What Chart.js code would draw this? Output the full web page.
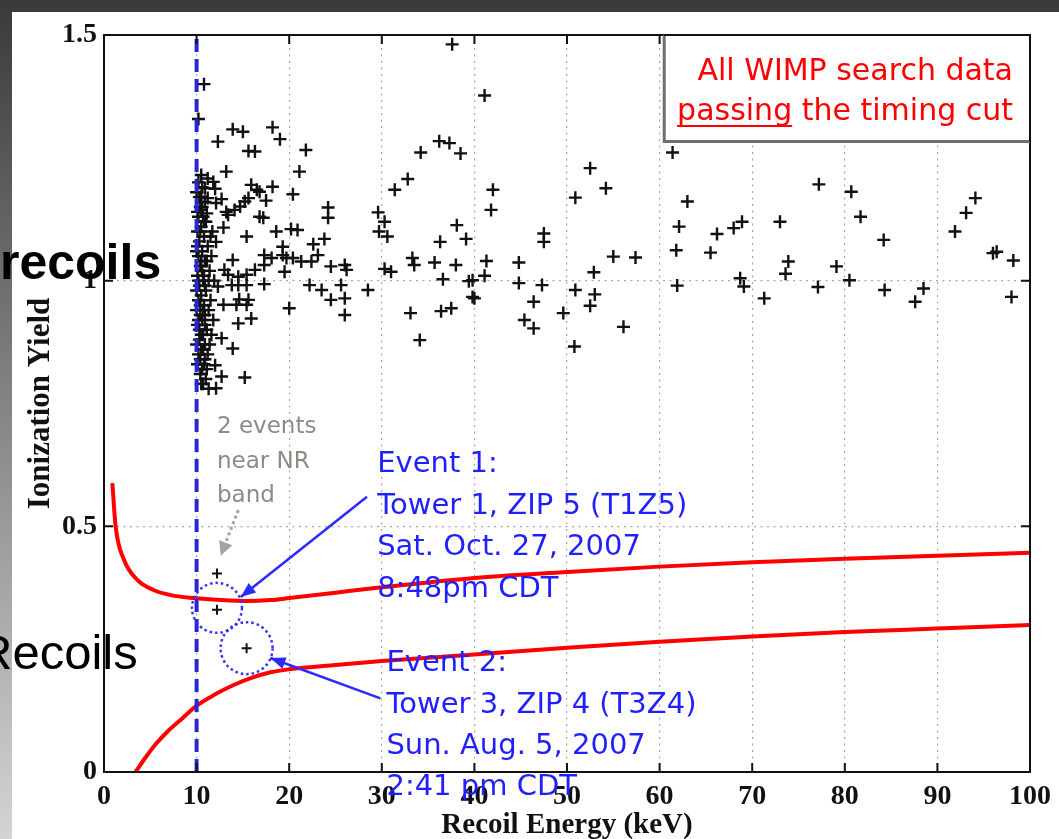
<!DOCTYPE html>
<html>
<head>
<meta charset="utf-8">
<title>Ionization yield vs recoil energy</title>
<script src="https://cdn.jsdelivr.net/npm/chart.js@4.4.1/dist/chart.umd.min.js"></script>
<style>
  html, body { margin: 0; padding: 0; background: #fff; overflow: hidden; }
  #wrap { position: relative; width: 1059px; height: 839px; }
</style>
</head>
<body>
<div id="wrap"><canvas id="yieldPlot" width="1059" height="839"></canvas></div>
<script>
var xTicks = [0, 10, 20, 30, 40, 50, 60, 70, 80, 90, 100];
var yTicks = [0, 0.5, 1, 1.5];
var thresholdKeV = 10;

// [recoil energy (keV), ionization yield]
var clusterEvents = [
    [10.2,1.20],[10.6,1.19],[10.3,1.17],[10.9,1.16],[10.4,1.15],[10.2,1.13],[11.0,1.12],[10.5,1.11],
    [10.1,1.10],[10.8,1.09],[10.3,1.08],[11.2,1.07],[10.6,1.06],[10.2,1.05],[10.9,1.04],[10.4,1.03],
    [11.4,1.02],[10.1,1.01],[10.7,1.00],[10.3,0.99],[11.0,0.98],[10.5,0.97],[10.2,0.96],[10.8,0.95],
    [11.3,0.94],[10.4,0.93],[10.6,0.92],[10.1,0.91],[11.1,0.90],[10.7,0.89],[10.3,0.88],[10.9,0.87],
    [10.5,0.86],[11.2,0.85],[10.4,0.84],[10.8,0.83],[10.6,0.82],[11.0,0.80],[10.7,0.79],[11.3,0.78],
    [10.2,1.00],[10.5,1.04],[10.3,0.90],[10.7,1.13],[11.5,0.96],[11.6,1.05],[11.4,0.87],[10.1,1.07],
    [10.9,0.93],[11.7,1.10],[10.0,1.18],[10.4,1.10],[10.8,1.12],[10.0,1.06],[10.6,1.02],[10.0,0.98],
    [10.9,0.99],[10.4,0.95],[10.0,0.94],[10.7,0.94],[10.2,0.92],[10.9,0.91],[10.5,0.89],[10.0,0.87],
    [10.7,0.86],[10.2,0.85],[10.9,0.84],[10.4,0.81],[10.1,0.83],[10.5,0.79],[11.1,0.82],[10.8,1.01],
    [11.3,1.00],[11.1,1.04],[10.6,1.15],[10.1,1.14],[11.5,1.09],[11.9,1.00],[11.8,0.92],[11.6,0.89]
];

var lowEnergyEvents = [
    [10.8,1.400],[10.2,1.329],[13.9,1.308],[15.0,1.303],[18.2,1.312],[19.0,1.288],[12.3,1.283],
    [15.6,1.264],[16.3,1.263],[21.8,1.266],[13.2,1.222],[21.1,1.222],[10.5,1.215],[11.2,1.208],
    [11.8,1.201],[15.9,1.195],[18.2,1.191],[10.9,1.188],[12.0,1.187],[16.5,1.185],[16.8,1.181],
    [20.4,1.176],[10.5,1.171],[11.2,1.168],[12.7,1.166],[15.6,1.168],[15.2,1.161],[17.5,1.163],
    [12.1,1.158],[14.7,1.151],[14.1,1.144],[24.2,1.149],[10.5,1.144],[11.1,1.137],[13.2,1.140],
    [13.4,1.134],[16.8,1.130],[17.2,1.128],[24.2,1.128],[12.9,1.108],[15.4,1.090],[18.6,1.100],
    [20.2,1.105],[20.9,1.103],[12.1,1.079],[22.6,1.074],[23.8,1.085],[19.3,1.069],[17.3,1.052],
    [18.1,1.046],[19.3,1.052],[19.7,1.046],[20.4,1.046],[21.3,1.039],[22.4,1.039],[23.1,1.052],
    [13.9,1.042],[17.3,1.032],[19.5,1.018],[13.0,1.022],[13.4,1.012],[14.5,1.008],[15.4,1.012],
    [16.3,1.022],[24.5,1.029],[26.0,1.032],[26.2,1.022],[12.3,0.988],[13.8,0.991],[14.5,0.991],
    [15.4,0.991],[17.3,0.993],[22.2,0.991],[23.5,0.981],[25.6,0.991],[24.5,0.961],[26.0,0.964],
    [26.0,0.930],[12.9,0.951],[14.3,0.951],[15.4,0.951],[14.6,0.962],[15.6,0.961],[20.0,0.944],
    [14.5,0.913],[15.9,0.923],[12.7,0.883],[13.9,0.862],[12.0,0.828],[12.7,0.805],[15.2,0.803],
    [12.1,0.781]
];

var highEnergyEvents = [
    [37.6,1.481],[41.1,1.377],[36.2,1.284],[37.3,1.280],[38.5,1.259],[34.2,1.261],[32.8,1.207],
    [31.4,1.185],[42.0,1.185],[41.8,1.144],[29.6,1.139],[30.3,1.120],[29.7,1.100],[30.6,1.090],
    [38.1,1.113],[39.1,1.085],[36.3,1.079],[33.3,1.046],[33.5,1.032],[35.7,1.037],[38.0,1.032],
    [30.3,1.024],[31.0,1.018],[41.3,1.040],[41.1,1.010],[36.6,1.003],[39.4,0.999],[39.8,1.001],
    [28.5,0.981],[39.8,0.967],[40.0,0.964],[33.1,0.934],[36.4,0.938],[37.5,0.944],[34.1,0.879],
    [44.8,1.037],[44.8,0.995],[47.3,0.991],[46.4,0.957],[45.4,0.920],[46.4,0.903],[47.5,1.096],
    [47.5,1.079],[49.6,0.934],[50.8,0.866],[50.9,1.169],[52.5,1.229],[54.2,1.188],[50.9,0.981],
    [52.9,1.017],[53.0,0.972],[52.5,0.949],[55.0,1.049],[57.4,1.047],[56.1,0.906],[61.4,1.261],
    [62.1,1.110],[61.8,1.062],[61.9,0.990],[63.0,1.161],[66.2,1.095],[65.5,1.057],[68.0,1.107],
    [68.9,1.120],[68.7,1.005],[69.1,0.988],[71.3,0.964],[73.0,1.120],[73.9,1.039],[73.6,1.014],
    [77.1,0.987],[77.2,1.196],[79.1,1.029],[80.5,1.001],[80.7,1.181],[81.7,1.130],[84.2,1.083],
    [84.3,0.981],[87.6,0.957],[88.5,0.984],[91.9,1.100],[93.1,1.138],[94.1,1.168],[96.0,1.056],
    [96.4,1.059],[98.2,1.041],[98.0,0.967]
];

// the three events sitting near the nuclear-recoil band
var candidateEvents = [[12.2,0.404],[12.2,0.330],[15.4,0.252]];

var nrBandUpper = [
    [0.9,0.588],[1.26,0.499],[2.16,0.432],[3.6,0.391],[5.4,0.370],[7.2,0.360],[9.7,0.354],
    [12.6,0.350],[15.4,0.348],[18.0,0.350],[20.0,0.354],[25,0.365],[30,0.376],[40,0.395],
    [50,0.407],[60,0.418],[70,0.427],[80,0.434],[90,0.440],[100,0.446]
];
var nrBandLower = [
    [3.4,0.0],[4.5,0.03],[5.5,0.055],[7,0.085],[8.5,0.11],[10,0.135],[12,0.158],[14,0.177],
    [16,0.192],[18,0.203],[20,0.209],[25,0.218],[30,0.226],[40,0.239],[50,0.253],[60,0.265],
    [70,0.276],[80,0.285],[90,0.292],[100,0.299]
];

var boxLines = ['All WIMP search data', 'passing the timing cut'];
var noteLines = ['2 events', 'near NR', 'band'];
var event1Lines = ['Event 1:', 'Tower 1, ZIP 5 (T1Z5)', 'Sat. Oct. 27, 2007', '8:48pm CDT'];
var event2Lines = ['Event 2:', 'Tower 3, ZIP 4 (T3Z4)', 'Sun. Aug. 5, 2007', '2:41 pm CDT'];

function toPoints(arr) {
    return arr.map(function (p) { return {x: p[0], y: p[1]}; });
}

var serif = '"Liberation Serif", "Times New Roman", serif';
var handFont = '"Comic Sans MS", "DejaVu Sans", sans-serif';

function pos(chart, x, y) {
    return {x: chart.scales.x.getPixelForValue(x), y: chart.scales.y.getPixelForValue(y)};
}

function arrowHead(ctx, from, to, len, half) {
    var a = Math.atan2(to.y - from.y, to.x - from.x);
    var bx = to.x - len * Math.cos(a), by = to.y - len * Math.sin(a);
    ctx.beginPath();
    ctx.moveTo(to.x, to.y);
    ctx.lineTo(bx + half * Math.sin(a), by - half * Math.cos(a));
    ctx.lineTo(bx - half * Math.sin(a), by + half * Math.cos(a));
    ctx.closePath();
    ctx.fill();
}

function textBlock(ctx, lines, x, y, step) {
    lines.forEach(function (t, i) { ctx.fillText(t, x, y + i * step); });
}

var decorations = {
    id: 'decorations',
    beforeDraw: function (chart) {
        var ctx = chart.ctx, w = chart.width, h = chart.height;
        ctx.save();
        ctx.fillStyle = '#ffffff';
        ctx.fillRect(0, 0, w, h);
        var g = ctx.createLinearGradient(0, 0, 0, h);
        g.addColorStop(0, '#3a3a3a');
        g.addColorStop(1, '#d4d4d4');
        ctx.fillStyle = g;
        ctx.fillRect(0, 0, 12, h);
        ctx.fillStyle = '#3b3b3b';
        ctx.fillRect(0, 0, w, 12);
        ctx.restore();
    },
    afterDatasetsDraw: function (chart) {
        var ctx = chart.ctx, a = chart.chartArea;
        var xs = chart.scales.x, ys = chart.scales.y;
        ctx.save();

        // axes box with inward ticks
        ctx.strokeStyle = '#111';
        ctx.lineWidth = 2;
        ctx.strokeRect(a.left, a.top, a.right - a.left, a.bottom - a.top);
        ctx.beginPath();
        xTicks.forEach(function (v) {
            var p = xs.getPixelForValue(v);
            ctx.moveTo(p, a.bottom); ctx.lineTo(p, a.bottom - 9);
            ctx.moveTo(p, a.top); ctx.lineTo(p, a.top + 9);
        });
        yTicks.forEach(function (v) {
            var p = ys.getPixelForValue(v);
            ctx.moveTo(a.left, p); ctx.lineTo(a.left + 9, p);
            ctx.moveTo(a.right, p); ctx.lineTo(a.right - 9, p);
        });
        ctx.stroke();

        // caption box in the top right corner
        var b0 = pos(chart, 60.5, 1.5), b1 = pos(chart, 100, 1.283);
        ctx.fillStyle = '#fff';
        ctx.fillRect(b0.x, b0.y, b1.x - b0.x, b1.y - b0.y);
        ctx.strokeStyle = '#6e6e6e';
        ctx.lineWidth = 3;
        ctx.beginPath();
        ctx.moveTo(b0.x, b0.y); ctx.lineTo(b0.x, b1.y); ctx.lineTo(b1.x, b1.y);
        ctx.stroke();
        ctx.strokeStyle = '#111';
        ctx.lineWidth = 2;
        ctx.beginPath();
        ctx.moveTo(b0.x, b0.y); ctx.lineTo(b1.x, b0.y); ctx.lineTo(b1.x, b1.y);
        ctx.stroke();

        ctx.fillStyle = '#ff0000';
        ctx.font = '30px ' + handFont;
        ctx.textAlign = 'right';
        ctx.textBaseline = 'middle';
        var rx = b1.x - 17;
        ctx.fillText(boxLines[0], rx, b0.y + 37);
        ctx.fillText(boxLines[1], rx, b0.y + 77);
        var full = ctx.measureText(boxLines[1]).width;
        var word = ctx.measureText('passing').width;
        ctx.fillRect(rx - full, b0.y + 90, word, 2);

        // threshold note with dotted pointer
        var n0 = pos(chart, 12.2, 0.702);
        ctx.fillStyle = '#8f8a86';
        ctx.font = '23px ' + handFont;
        ctx.textAlign = 'left';
        textBlock(ctx, noteLines, n0.x, n0.y, 34.5);
        var g0 = pos(chart, 14.5, 0.533), g1 = pos(chart, 12.6, 0.44);
        ctx.strokeStyle = '#a3a3a3';
        ctx.fillStyle = '#a3a3a3';
        ctx.lineWidth = 3;
        ctx.setLineDash([3, 3]);
        ctx.beginPath(); ctx.moveTo(g0.x, g0.y); ctx.lineTo(g1.x + 3, g1.y - 8); ctx.stroke();
        ctx.setLineDash([]);
        arrowHead(ctx, g0, g1, 14, 7);

        // dotted rings around the two events
        var e1 = pos(chart, candidateEvents[1][0], candidateEvents[1][1]);
        var e2 = pos(chart, candidateEvents[2][0], candidateEvents[2][1]);
        ctx.strokeStyle = '#3333ff';
        ctx.lineWidth = 2.5;
        ctx.setLineDash([2.5, 3]);
        ctx.beginPath(); ctx.arc(e1.x, e1.y - 2, 25, 0, Math.PI * 2); ctx.stroke();
        ctx.beginPath(); ctx.arc(e2.x, e2.y, 26, 0, Math.PI * 2); ctx.stroke();
        ctx.setLineDash([]);

        // pointers from the event notes
        ctx.strokeStyle = '#2b2bff';
        ctx.fillStyle = '#2b2bff';
        ctx.lineWidth = 2.5;
        var p1a = pos(chart, 28.4, 0.560), p1b = pos(chart, 14.76, 0.356);
        var p2a = pos(chart, 29.85, 0.150), p2b = pos(chart, 17.97, 0.232);
        [[p1a, p1b], [p2a, p2b]].forEach(function (s) {
            ctx.beginPath(); ctx.moveTo(s[0].x, s[0].y); ctx.lineTo(s[1].x, s[1].y); ctx.stroke();
            arrowHead(ctx, s[0], s[1], 15, 6);
        });

        ctx.fillStyle = '#1f1fff';
        ctx.font = '29px ' + handFont;
        var t1 = pos(chart, 29.5, 0.625), t2 = pos(chart, 30.5, 0.22);
        textBlock(ctx, event1Lines, t1.x, t1.y, 41.5);
        textBlock(ctx, event2Lines, t2.x, t2.y, 41.3);
        ctx.restore();
    },
    afterDraw: function (chart) {
        // slide labels overlapping the plot
        var ctx = chart.ctx;
        ctx.save();
        ctx.fillStyle = '#000';
        ctx.textAlign = 'left';
        ctx.textBaseline = 'alphabetic';
        ctx.font = 'bold 50px "Liberation Sans", Arial, sans-serif';
        ctx.fillText('recoils', 0, 279);
        ctx.font = '49px "Liberation Sans", Arial, sans-serif';
        ctx.fillText('Recoils', -23, 669);
        ctx.restore();
    }
};

var crossStyle = {
    pointStyle: 'cross',
    pointRadius: 6.5,
    pointBorderWidth: 2.4,
    pointBorderColor: '#111',
    pointBackgroundColor: '#111'
};

var ctx = document.getElementById('yieldPlot').getContext('2d');
var chart = new Chart(ctx, {
    type: 'scatter',
    data: {
        datasets: [
            {
                label: 'Threshold',
                data: [{x: thresholdKeV, y: 0}, {x: thresholdKeV, y: 1.5}],
                showLine: true,
                borderColor: '#2626d4',
                borderWidth: 4,
                borderDash: [13, 7],
                pointRadius: 0,
                order: 0
            },
            Object.assign({label: 'Threshold pile-up', data: toPoints(clusterEvents), order: 1}, crossStyle),
            Object.assign({label: 'Low energy', data: toPoints(lowEnergyEvents), order: 1}, crossStyle),
            Object.assign({label: 'High energy', data: toPoints(highEnergyEvents), order: 1}, crossStyle),
            Object.assign({label: 'Candidates', data: toPoints(candidateEvents), order: 1}, crossStyle,
                {pointRadius: 5, pointBorderWidth: 2}),
            {
                label: 'NR band upper',
                data: toPoints(nrBandUpper),
                showLine: true,
                borderColor: '#ff0000',
                borderWidth: 4,
                cubicInterpolationMode: 'monotone',
                pointRadius: 0,
                order: 2
            },
            {
                label: 'NR band lower',
                data: toPoints(nrBandLower),
                showLine: true,
                borderColor: '#ff0000',
                borderWidth: 4,
                cubicInterpolationMode: 'monotone',
                pointRadius: 0,
                order: 2
            }
        ]
    },
    options: {
        responsive: false,
        animation: false,
        events: [],
        layout: {padding: {top: 35, right: 26, left: 0, bottom: 0}},
        plugins: {legend: {display: false}, tooltip: {enabled: false}},
        scales: {
            x: {
                type: 'linear',
                min: 0,
                max: 100,
                afterBuildTicks: function (s) { s.ticks = xTicks.map(function (v) { return {value: v}; }); },
                afterFit: function (s) { s.height = 67; },
                ticks: {
                    autoSkip: false,
                    maxRotation: 0,
                    padding: 8,
                    color: '#111',
                    font: {family: serif, size: 28, weight: 'bold'},
                    callback: function (v) { return String(v); }
                },
                grid: {color: '#a8a8a8', lineWidth: 1.2, drawTicks: false},
                border: {display: false, dash: [2, 4.5]},
                title: {
                    display: true,
                    text: 'Recoil Energy (keV)',
                    color: '#111',
                    padding: {top: 0, bottom: -1},
                    font: {family: serif, size: 29, weight: 'bold', lineHeight: 1}
                }
            },
            y: {
                type: 'linear',
                min: 0,
                max: 1.5,
                afterBuildTicks: function (s) { s.ticks = yTicks.map(function (v) { return {value: v}; }); },
                afterFit: function (s) { s.width = 104; },
                ticks: {
                    autoSkip: false,
                    padding: 7,
                    color: '#111',
                    font: {family: serif, size: 28, weight: 'bold'},
                    callback: function (v) { return String(v); }
                },
                grid: {color: '#a8a8a8', lineWidth: 1.2, drawTicks: false},
                border: {display: false, dash: [2, 4.5]},
                title: {
                    display: true,
                    text: 'Ionization Yield',
                    color: '#111',
                    padding: {top: 25, bottom: 0},
                    font: {family: serif, size: 31, weight: 'bold', lineHeight: 1}
                }
            }
        }
    },
    plugins: [decorations]
});
</script>
</body>
</html>
